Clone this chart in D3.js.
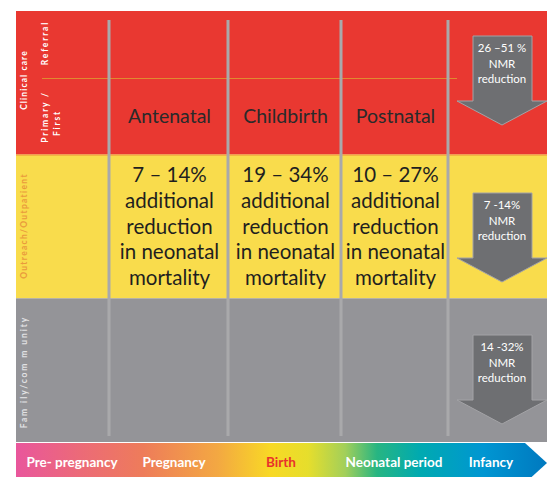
<!DOCTYPE html>
<html>
<head>
<meta charset="utf-8">
<script src="https://cdn.jsdelivr.net/npm/d3@7"></script>
<style>
  body { margin: 0; background: #fff; }
  svg { display: block; font-family: Lato, "Open Sans", sans-serif; }
</style>
</head>
<body>
<svg width="547" height="477"></svg>
<script>
// levels of care (rows) and stages (columns)
const levels = ['clinical', 'outreach', 'family'];
const levelColors = ['#e93831', '#f9dc4c', '#949498'];
const stages = ['Antenatal', 'Childbirth', 'Postnatal'];
const stageReduction = [
  ['7 – 14%', 'additional', 'reduction', 'in neonatal', 'mortality'],
  ['19 – 34%', 'additional', 'reduction', 'in neonatal', 'mortality'],
  ['10 – 27%', 'additional', 'reduction', 'in neonatal', 'mortality']
];
const nmrReduction = [
  ['26 –51 %', 'NMR', 'reduction'],
  ['7 -14%', 'NMR', 'reduction'],
  ['14 -32%', 'NMR', 'reduction']
];
const timeline = ['Pre- pregnancy', 'Pregnancy', 'Birth', 'Neonatal period', 'Infancy'];
const timelineColors = ['#fff', '#fff', '#e8322c', '#fff', '#fff'];

let svg = d3.select('svg');
let chartLeft = 16, chartRight = 547, chartTop = 11, bandBottom = 442;

let y = d3.scaleBand().domain(levels).range([chartTop, bandBottom]);
// column boundaries (columns are not quite equal width)
let x = d3.scaleLinear().domain([0, 1, 2, 3]).range([109, 228, 341, 448]);
let colCenter = i => (x(i) + x(i + 1)) / 2;

// bands
svg.selectAll('rect.level')
  .data(levels)
  .join('rect')
  .attr('class', 'level')
  .attr('x', chartLeft)
  .attr('y', d => y(d))
  .attr('width', chartRight - chartLeft)
  .attr('height', y.bandwidth())
  .attr('fill', (d, i) => levelColors[i]);

// thin orange line between red and yellow
svg.append('line')
  .attr('x1', chartLeft).attr('x2', chartRight)
  .attr('y1', y('outreach') + 0.5).attr('y2', y('outreach') + 0.5)
  .attr('stroke', '#f0a23a').attr('stroke-width', 1);

// referral / primary divider
svg.append('line')
  .attr('x1', 42).attr('x2', 457)
  .attr('y1', 78.5).attr('y2', 78.5)
  .attr('stroke', '#e08a30').attr('stroke-width', 1.2);

// column separators
svg.selectAll('line.sep')
  .data(d3.range(stages.length + 1))
  .join('line')
  .attr('class', 'sep')
  .attr('x1', d => x(d)).attr('x2', d => x(d))
  .attr('y1', 20).attr('y2', 436)
  .attr('stroke', '#a9a9ab').attr('stroke-width', 3);

// column headers
svg.selectAll('text.stage')
  .data(stages)
  .join('text')
  .attr('class', 'stage')
  .attr('x', (d, i) => colCenter(i) + 1)
  .attr('y', 123)
  .attr('text-anchor', 'middle')
  .attr('font-size', 19.5)
  .attr('fill', '#2a2a2a')
  .text(d => d);

// reduction texts in yellow band
stages.forEach((s, i) => {
  let t = svg.append('text')
    .attr('text-anchor', 'middle')
    .attr('font-size', 20.5)
    .attr('fill', '#1f1f1f');
  stageReduction[i].forEach((line, j) => {
    t.append('tspan')
      .attr('x', colCenter(i) + 1)
      .attr('y', 182 + j * 25.8)
      .text(line);
  });
});

// NMR arrows
let arrowTop = [36, 193, 335];
nmrReduction.forEach((lines, i) => {
  let t0 = arrowTop[i];
  let pts = [[473, t0], [532, t0], [532, t0 + 65], [547, t0 + 65], [502, t0 + 89],
             [457, t0 + 65], [473, t0 + 65]];
  svg.append('path')
    .attr('d', d3.line()(pts) + 'Z')
    .attr('fill', '#6e6f72')
    .attr('stroke', '#a3a3a6')
    .attr('stroke-width', 1);
  let t = svg.append('text')
    .attr('text-anchor', 'middle')
    .attr('font-size', 11.5)
    .attr('fill', '#fff');
  lines.forEach((line, j) => {
    t.append('tspan')
      .attr('x', 502)
      .attr('y', t0 + 16 + j * 15.5)
      .text(line);
  });
});

// vertical side labels
function sideLabel(txt, cx, cy, color, spacing) {
  svg.append('text')
    .attr('transform', `translate(${cx},${cy}) rotate(-90)`)
    .attr('text-anchor', 'middle')
    .attr('dominant-baseline', 'central')
    .attr('font-size', 8.5)
    .attr('font-weight', 'bold')
    .attr('letter-spacing', spacing)
    .attr('fill', color)
    .text(txt);
}
sideLabel('Clinical care', 24, 80, '#fff', 1.1);
sideLabel('Referral', 45, 43, '#fff', 1.8);
sideLabel('Primary /', 45, 117, '#fff', 1.8);
sideLabel('First', 57, 123, '#fff', 1.8);
sideLabel('Outreach/Outpatient', 24, 226, '#ea9a3c', 1.3);
sideLabel('Fam ily/com m unity', 24, 372, '#e2e2e4', 1.9);

// timeline gradient arrow
let grad = svg.append('defs').append('linearGradient')
  .attr('id', 'tl')
  .attr('x1', '0%').attr('x2', '100%');
[['0%', '#e9569c'], ['12%', '#ec6a78'], ['24%', '#ee7c5a'], ['38%', '#f3a842'],
 ['48%', '#f8d925'], ['55%', '#e6de2c'], ['62%', '#a2cf5a'], ['68%', '#27b582'],
 ['76%', '#00aab0'], ['88%', '#0096d2'], ['100%', '#0079bf']]
  .forEach(s => grad.append('stop').attr('offset', s[0]).attr('stop-color', s[1]));

let tlTop = 443, tlBottom = 483;
svg.append('path')
  .attr('d', d3.line()([[chartLeft, tlTop], [525, tlTop], [547, (tlTop + tlBottom) / 2],
                        [525, tlBottom], [chartLeft, tlBottom]]) + 'Z')
  .attr('fill', 'url(#tl)');

let tlX = [72, 174, 281, 394, 491];
svg.selectAll('text.tl')
  .data(timeline)
  .join('text')
  .attr('class', 'tl')
  .attr('x', (d, i) => tlX[i])
  .attr('y', 467)
  .attr('text-anchor', 'middle')
  .attr('font-size', 13.5)
  .attr('font-weight', 'bold')
  .attr('fill', (d, i) => timelineColors[i])
  .text(d => d);
</script>
</body>
</html>
